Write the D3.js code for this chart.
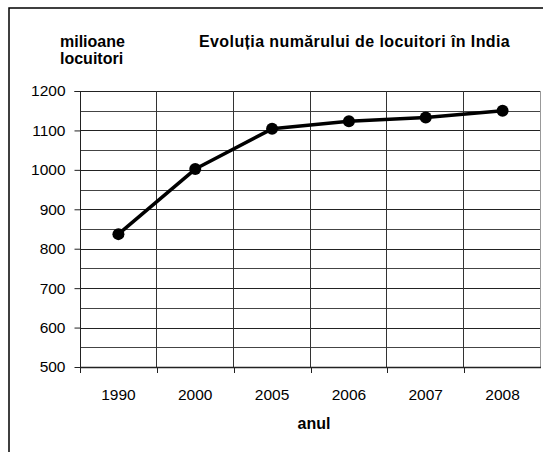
<!DOCTYPE html>
<html>
<head>
<meta charset="utf-8">
<script src="https://cdn.jsdelivr.net/npm/d3@7"></script>
<style>
  body { margin: 0; background: #fff; }
  svg { display: block; font-family: "Liberation Sans", Arial, sans-serif; }
</style>
</head>
<body>
<svg id="chart"></svg>
<script>
// data
const years = ["1990", "2000", "2005", "2006", "2007", "2008"];
const population = [837, 1002, 1104, 1123, 1133, 1150];
const yTicks = [500, 600, 700, 800, 900, 1000, 1100, 1200];
const yMinor = [550, 650, 750, 850, 950, 1050, 1150];

const width = 543, height = 452;
const margin = {top: 91, right: 2, bottom: 85, left: 80};
const innerW = width - margin.left - margin.right;
const innerH = height - margin.top - margin.bottom;

const svg = d3.select("#chart").attr("width", width).attr("height", height);

// outer frame (only top and left visible in the picture)
svg.append("path")
    .attr("d", `M9,${height} V8 H${width}`)
    .attr("fill", "none")
    .attr("stroke", "#000")
    .attr("stroke-width", 1.5);

const g = svg.append("g").attr("transform", `translate(${margin.left},${margin.top})`);

const x = d3.scaleBand().domain(years).range([0, innerW]);
const y = d3.scaleLinear().domain([500, 1200]).range([innerH, 0]);

// horizontal grid
g.selectAll(".minor")
    .data(yMinor)
    .join("line")
    .attr("class", "minor")
    .attr("x1", 0).attr("x2", innerW)
    .attr("y1", d => Math.round(y(d)) + 0.5).attr("y2", d => Math.round(y(d)) + 0.5)
    .attr("stroke", "#444");

g.selectAll(".major")
    .data(yTicks)
    .join("line")
    .attr("class", "major")
    .attr("x1", 0).attr("x2", innerW)
    .attr("y1", d => Math.round(y(d)) + 0.5).attr("y2", d => Math.round(y(d)) + 0.5)
    .attr("stroke", "#222");

// vertical grid at category boundaries
const bounds = years.map(d => x(d)).concat([innerW]);
g.selectAll(".vgrid")
    .data(bounds.slice(1))
    .join("line")
    .attr("class", "vgrid")
    .attr("x1", d => Math.round(d) - 0.5).attr("x2", d => Math.round(d) - 0.5)
    .attr("y1", 0).attr("y2", innerH)
    .attr("stroke", (d, i) => i === bounds.length - 2 ? "#999" : "#333");

// axes
const yAxis = d3.axisLeft(y).tickValues(yTicks).tickFormat(d3.format("d")).tickSize(6).tickPadding(9);
const yAxisG = g.append("g").attr("transform", "translate(0.5,0)").call(yAxis);
yAxisG.select(".domain").attr("stroke", "#222").attr("d", `M-6,${y(1200) + 0.5}H0V${innerH}`);
yAxisG.selectAll("text").attr("font-size", 15.5).attr("fill", "#000");
yAxisG.selectAll(".tick line").attr("stroke", "#222");

const xAxisG = g.append("g").attr("transform", `translate(0,${innerH})`);
xAxisG.append("line")
    .attr("x1", 0).attr("x2", innerW)
    .attr("y1", 0.5).attr("y2", 0.5)
    .attr("stroke", "#222").attr("stroke-width", 1.5);
xAxisG.selectAll(".xtick")
    .data(bounds.slice(0, -1))
    .join("line")
    .attr("class", "xtick")
    .attr("x1", d => Math.round(d) + 0.5).attr("x2", d => Math.round(d) + 0.5)
    .attr("y1", 0).attr("y2", 6)
    .attr("stroke", "#222");
xAxisG.selectAll(".xlabel")
    .data(years)
    .join("text")
    .attr("class", "xlabel")
    .attr("x", d => x(d) + x.bandwidth() / 2)
    .attr("y", 33)
    .attr("text-anchor", "middle")
    .attr("font-size", 15.5)
    .attr("fill", "#000")
    .text(d => d);

// line and markers
const pts = years.map((d, i) => [x(d) + x.bandwidth() / 2, y(population[i])]);
g.append("path")
    .attr("d", d3.line()(pts))
    .attr("fill", "none")
    .attr("stroke", "#000")
    .attr("stroke-width", 3.5)
    .attr("stroke-linejoin", "round");
g.selectAll(".pt")
    .data(pts)
    .join("circle")
    .attr("class", "pt")
    .attr("cx", d => d[0]).attr("cy", d => d[1])
    .attr("r", 6)
    .attr("fill", "#000");

// titles
svg.append("text")
    .attr("x", 60).attr("y", 47)
    .attr("font-size", 16).attr("font-weight", "bold")
    .text("milioane");
svg.append("text")
    .attr("x", 60).attr("y", 64)
    .attr("font-size", 16).attr("font-weight", "bold")
    .text("locuitori");
svg.append("text")
    .attr("x", 199).attr("y", 47)
    .attr("font-size", 16).attr("font-weight", "bold")
    .attr("letter-spacing", 0.4)
    .text("Evoluția numărului de locuitori în India");
svg.append("text")
    .attr("x", 314).attr("y", 429)
    .attr("text-anchor", "middle")
    .attr("font-size", 16).attr("font-weight", "bold")
    .text("anul");
</script>
</body>
</html>
